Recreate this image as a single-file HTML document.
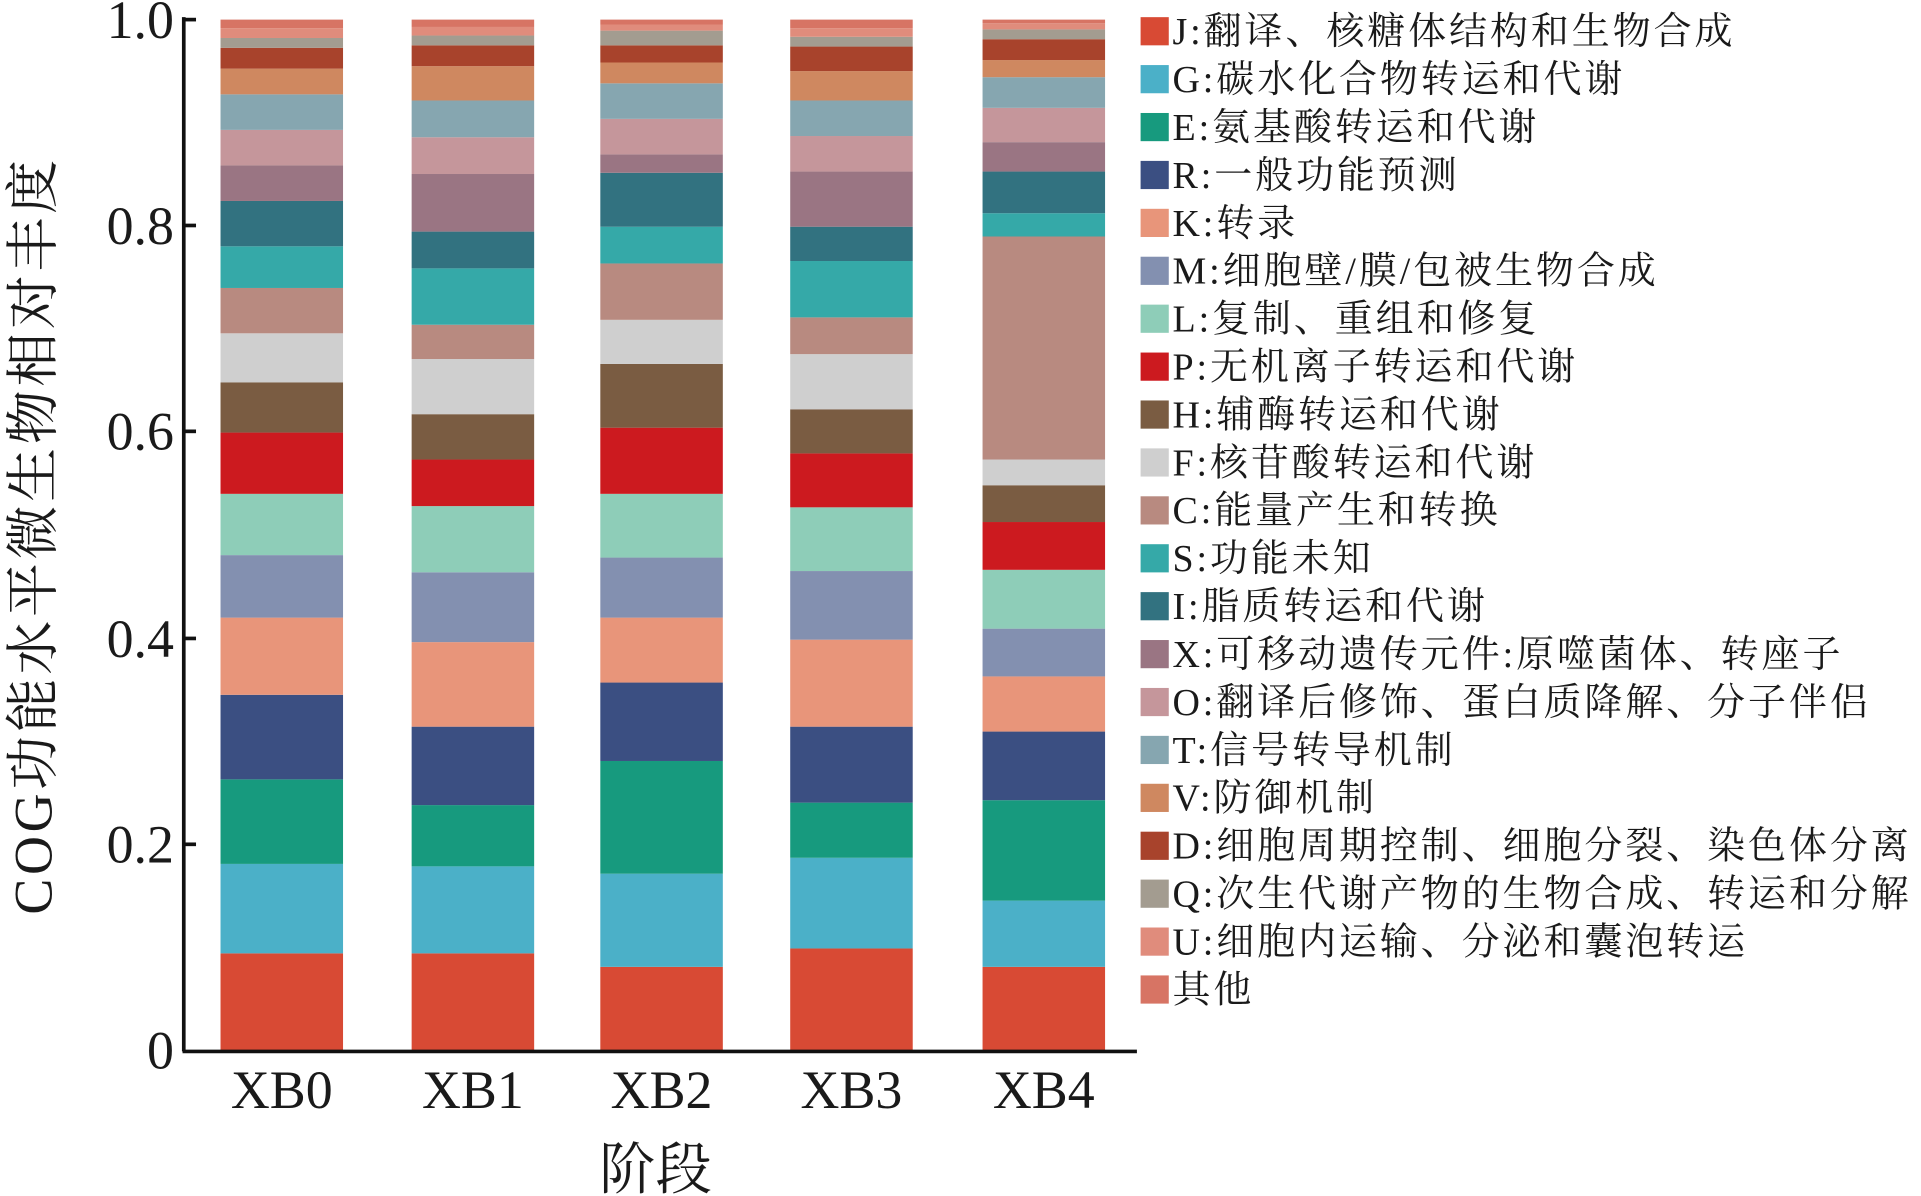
<!DOCTYPE html>
<html><head><meta charset="utf-8"><style>
html,body{margin:0;padding:0;background:#fff;}
svg{display:block;}
text{font-family:"Liberation Serif","Noto Serif CJK SC",serif;fill:#1a1a1a;}
.c0{fill:#d84a34}.c1{fill:#4bb0c8}.c2{fill:#179a7e}.c3{fill:#3b4f82}.c4{fill:#e8957a}.c5{fill:#8390b0}.c6{fill:#8ecdb8}.c7{fill:#cc1a1f}.c8{fill:#7a5c42}.c9{fill:#cfcfcf}.c10{fill:#b88a80}.c11{fill:#35a9a8}.c12{fill:#327280}.c13{fill:#9a7583}.c14{fill:#c5969b}.c15{fill:#86a6b0}.c16{fill:#cf8860}.c17{fill:#a8432c}.c18{fill:#a39c90}.c19{fill:#e08c7c}.c20{fill:#d77464}
</style></head><body>
<svg width="1921" height="1196" viewBox="0 0 1568 976" preserveAspectRatio="none" xmlns="http://www.w3.org/2000/svg">
<g transform="translate(180,0)">
<rect class="c0" x="0" y="778" width="100" height="79"/><rect class="c1" x="0" y="705" width="100" height="73"/><rect class="c2" x="0" y="636" width="100" height="69"/><rect class="c3" x="0" y="567" width="100" height="69"/><rect class="c4" x="0" y="504" width="100" height="63"/><rect class="c5" x="0" y="453" width="100" height="51"/><rect class="c6" x="0" y="403" width="100" height="50"/><rect class="c7" x="0" y="353" width="100" height="50"/><rect class="c8" x="0" y="312" width="100" height="41"/><rect class="c9" x="0" y="272" width="100" height="40"/><rect class="c10" x="0" y="235" width="100" height="37"/><rect class="c11" x="0" y="201" width="100" height="34"/><rect class="c12" x="0" y="164" width="100" height="37"/><rect class="c13" x="0" y="135" width="100" height="29"/><rect class="c14" x="0" y="106" width="100" height="29"/><rect class="c15" x="0" y="77" width="100" height="29"/><rect class="c16" x="0" y="56" width="100" height="21"/><rect class="c17" x="0" y="39" width="100" height="17"/><rect class="c18" x="0" y="31" width="100" height="8"/><rect class="c19" x="0" y="23" width="100" height="8"/><rect class="c20" x="0" y="16" width="100" height="7"/>
</g>
<g transform="translate(336,0)">
<rect class="c0" x="0" y="778" width="100" height="79"/><rect class="c1" x="0" y="707" width="100" height="71"/><rect class="c2" x="0" y="657" width="100" height="50"/><rect class="c3" x="0" y="593" width="100" height="64"/><rect class="c4" x="0" y="524" width="100" height="69"/><rect class="c5" x="0" y="467" width="100" height="57"/><rect class="c6" x="0" y="413" width="100" height="54"/><rect class="c7" x="0" y="375" width="100" height="38"/><rect class="c8" x="0" y="338" width="100" height="37"/><rect class="c9" x="0" y="293" width="100" height="45"/><rect class="c10" x="0" y="265" width="100" height="28"/><rect class="c11" x="0" y="219" width="100" height="46"/><rect class="c12" x="0" y="189" width="100" height="30"/><rect class="c13" x="0" y="142" width="100" height="47"/><rect class="c14" x="0" y="112" width="100" height="30"/><rect class="c15" x="0" y="82" width="100" height="30"/><rect class="c16" x="0" y="54" width="100" height="28"/><rect class="c17" x="0" y="37" width="100" height="17"/><rect class="c18" x="0" y="29" width="100" height="8"/><rect class="c19" x="0" y="22" width="100" height="7"/><rect class="c20" x="0" y="16" width="100" height="6"/>
</g>
<g transform="translate(490,0)">
<rect class="c0" x="0" y="789" width="100" height="68"/><rect class="c1" x="0" y="713" width="100" height="76"/><rect class="c2" x="0" y="621" width="100" height="92"/><rect class="c3" x="0" y="557" width="100" height="64"/><rect class="c4" x="0" y="504" width="100" height="53"/><rect class="c5" x="0" y="455" width="100" height="49"/><rect class="c6" x="0" y="403" width="100" height="52"/><rect class="c7" x="0" y="349" width="100" height="54"/><rect class="c8" x="0" y="297" width="100" height="52"/><rect class="c9" x="0" y="261" width="100" height="36"/><rect class="c10" x="0" y="215" width="100" height="46"/><rect class="c11" x="0" y="185" width="100" height="30"/><rect class="c12" x="0" y="141" width="100" height="44"/><rect class="c13" x="0" y="126" width="100" height="15"/><rect class="c14" x="0" y="97" width="100" height="29"/><rect class="c15" x="0" y="68" width="100" height="29"/><rect class="c16" x="0" y="51" width="100" height="17"/><rect class="c17" x="0" y="37" width="100" height="14"/><rect class="c18" x="0" y="25" width="100" height="12"/><rect class="c19" x="0" y="20" width="100" height="5"/><rect class="c20" x="0" y="16" width="100" height="4"/>
</g>
<g transform="translate(645,0)">
<rect class="c0" x="0" y="774" width="100" height="83"/><rect class="c1" x="0" y="700" width="100" height="74"/><rect class="c2" x="0" y="655" width="100" height="45"/><rect class="c3" x="0" y="593" width="100" height="62"/><rect class="c4" x="0" y="522" width="100" height="71"/><rect class="c5" x="0" y="466" width="100" height="56"/><rect class="c6" x="0" y="414" width="100" height="52"/><rect class="c7" x="0" y="370" width="100" height="44"/><rect class="c8" x="0" y="334" width="100" height="36"/><rect class="c9" x="0" y="289" width="100" height="45"/><rect class="c10" x="0" y="259" width="100" height="30"/><rect class="c11" x="0" y="213" width="100" height="46"/><rect class="c12" x="0" y="185" width="100" height="28"/><rect class="c13" x="0" y="140" width="100" height="45"/><rect class="c14" x="0" y="111" width="100" height="29"/><rect class="c15" x="0" y="82" width="100" height="29"/><rect class="c16" x="0" y="58" width="100" height="24"/><rect class="c17" x="0" y="38" width="100" height="20"/><rect class="c18" x="0" y="30" width="100" height="8"/><rect class="c19" x="0" y="23" width="100" height="7"/><rect class="c20" x="0" y="16" width="100" height="7"/>
</g>
<g transform="translate(802,0)">
<rect class="c0" x="0" y="789" width="100" height="68"/><rect class="c1" x="0" y="735" width="100" height="54"/><rect class="c2" x="0" y="653" width="100" height="82"/><rect class="c3" x="0" y="597" width="100" height="56"/><rect class="c4" x="0" y="552" width="100" height="45"/><rect class="c5" x="0" y="513" width="100" height="39"/><rect class="c6" x="0" y="465" width="100" height="48"/><rect class="c7" x="0" y="426" width="100" height="39"/><rect class="c8" x="0" y="396" width="100" height="30"/><rect class="c9" x="0" y="375" width="100" height="21"/><rect class="c10" x="0" y="193" width="100" height="182"/><rect class="c11" x="0" y="174" width="100" height="19"/><rect class="c12" x="0" y="140" width="100" height="34"/><rect class="c13" x="0" y="116" width="100" height="24"/><rect class="c14" x="0" y="88" width="100" height="28"/><rect class="c15" x="0" y="63" width="100" height="25"/><rect class="c16" x="0" y="49" width="100" height="14"/><rect class="c17" x="0" y="32" width="100" height="17"/><rect class="c18" x="0" y="24" width="100" height="8"/><rect class="c19" x="0" y="19" width="100" height="5"/><rect class="c20" x="0" y="16" width="100" height="3"/>
</g>
<line x1="150" y1="14" x2="150" y2="858" stroke="#111" stroke-width="3"/>
<line x1="149" y1="858" x2="928" y2="858" stroke="#111" stroke-width="3"/>
<g stroke="#111" stroke-width="3">
<line x1="150" y1="16" x2="160" y2="16"/><line x1="150" y1="184" x2="160" y2="184"/><line x1="150" y1="352" x2="160" y2="352"/><line x1="150" y1="521" x2="160" y2="521"/><line x1="150" y1="689" x2="160" y2="689"/>
</g>
<g font-size="44" text-anchor="end">
<text x="142" y="31">1.0</text><text x="142" y="199">0.8</text><text x="142" y="367">0.6</text><text x="142" y="536">0.4</text><text x="142" y="704">0.2</text><text x="142" y="872">0</text>
</g>
<g font-size="44" text-anchor="middle">
<text x="230" y="904">XB0</text><text x="386" y="904">XB1</text><text x="540" y="904">XB2</text><text x="695" y="904">XB3</text><text x="852" y="904">XB4</text>
<text x="535" y="970" font-size="46">阶段</text>
<text transform="translate(42,437) rotate(-90)" letter-spacing="3">COG功能水平微生物相对丰度</text>
</g>
<g font-size="31" letter-spacing="2.4">
<rect class="c0" x="931" y="14" width="23" height="23"/><text x="957" y="36">J:翻译、核糖体结构和生物合成</text>
<rect class="c1" x="931" y="53.1" width="23" height="23"/><text x="957" y="75.1">G:碳水化合物转运和代谢</text>
<rect class="c2" x="931" y="92.2" width="23" height="23"/><text x="957" y="114.2">E:氨基酸转运和代谢</text>
<rect class="c3" x="931" y="131.3" width="23" height="23"/><text x="957" y="153.3">R:一般功能预测</text>
<rect class="c4" x="931" y="170.4" width="23" height="23"/><text x="957" y="192.4">K:转录</text>
<rect class="c5" x="931" y="209.5" width="23" height="23"/><text x="957" y="231.5">M:细胞壁/膜/包被生物合成</text>
<rect class="c6" x="931" y="248.6" width="23" height="23"/><text x="957" y="270.6">L:复制、重组和修复</text>
<rect class="c7" x="931" y="287.7" width="23" height="23"/><text x="957" y="309.7">P:无机离子转运和代谢</text>
<rect class="c8" x="931" y="326.8" width="23" height="23"/><text x="957" y="348.8">H:辅酶转运和代谢</text>
<rect class="c9" x="931" y="365.9" width="23" height="23"/><text x="957" y="387.9">F:核苷酸转运和代谢</text>
<rect class="c10" x="931" y="405" width="23" height="23"/><text x="957" y="427">C:能量产生和转换</text>
<rect class="c11" x="931" y="444.1" width="23" height="23"/><text x="957" y="466.1">S:功能未知</text>
<rect class="c12" x="931" y="483.2" width="23" height="23"/><text x="957" y="505.2">I:脂质转运和代谢</text>
<rect class="c13" x="931" y="522.3" width="23" height="23"/><text x="957" y="544.3">X:可移动遗传元件:原噬菌体、转座子</text>
<rect class="c14" x="931" y="561.4" width="23" height="23"/><text x="957" y="583.4">O:翻译后修饰、蛋白质降解、分子伴侣</text>
<rect class="c15" x="931" y="600.5" width="23" height="23"/><text x="957" y="622.5">T:信号转导机制</text>
<rect class="c16" x="931" y="639.6" width="23" height="23"/><text x="957" y="661.6">V:防御机制</text>
<rect class="c17" x="931" y="678.7" width="23" height="23"/><text x="957" y="700.7">D:细胞周期控制、细胞分裂、染色体分离</text>
<rect class="c18" x="931" y="717.8" width="23" height="23"/><text x="957" y="739.8">Q:次生代谢产物的生物合成、转运和分解</text>
<rect class="c19" x="931" y="756.9" width="23" height="23"/><text x="957" y="778.9">U:细胞内运输、分泌和囊泡转运</text>
<rect class="c20" x="931" y="796" width="23" height="23"/><text x="957" y="818">其他</text>
</g>
</svg>
</body></html>
